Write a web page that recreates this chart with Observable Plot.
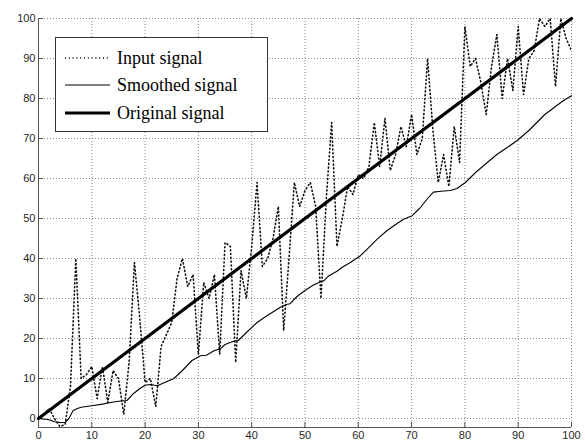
<!DOCTYPE html>
<html><head><meta charset="utf-8">
<script src="https://cdn.jsdelivr.net/npm/d3@7"></script>
<script src="https://cdn.jsdelivr.net/npm/@observablehq/plot@0.6"></script>
<style>body{margin:0;background:#fff}</style>
</head><body><div id="chart"></div>
<script>
// Input signal, one sample per x unit (x = 0..100)
const inputY = [0,1,2.5,0,-2,-1.5,8,40,10,11,
  13,5,13,4,12,10,1,14,39,25,
  9,10,3,18,21,24,35,40,33,36,
  16,34,30,36,16,44,43,14,37,30,
  43,59,38,40,45,53,22,40,59,53,
  57,59,53,30,55,74,43,50,58,56,
  61,60,63,74,63,75,62,66,73,68,
  76,66,70,90,72,59,66,58,73,64,
  98,88,90,84,76,88,96,80,90,82,
  98,81,90,92,100,98,100,83,100,95,
  92];
// Smoothed signal
const smoothX = [0,2,3,4,5,5.7,6.5,7.3,8,10,12,13.5,15,16.6,17.8,19,20,21,22.3,24,25.4,27,28.8,30.4,31.5,33,34.1,35,36.6,37.5,39,41,43,45.4,46.5,47.2,48.5,50,51.5,52.9,53.5,54.5,56,57,58.5,60.4,62,63.5,65.4,67,68.5,70.1,71.5,73,74.1,75.5,77.3,78.5,80.1,82,84.2,86,88,89.8,92,95,97,98.5,100];
const smoothY = [0,-0.3,-0.8,-1,-1,0,2,2.5,2.8,3.2,3.6,4,4.3,4.5,6.2,7.5,8.3,8.5,8.2,9.2,10,12,14.5,15.7,15.8,17,17.4,18.5,19.3,19.5,21.5,24,25.8,27.8,28.5,28.7,30.5,32,33.3,34.2,34.4,35.7,36.8,37.8,39,40.7,42.8,44.8,47,48.5,49.8,50.7,52.5,55,56.6,56.8,57,57.5,59,61.5,64,66,67.8,69.5,72,76,78,79.5,80.7];
// Original signal
const origX = [0,100];
const origY = [0,100];
const xTicks = [0,10,20,30,40,50,60,70,80,90,100];
const yTicks = [0,10,20,30,40,50,60,70,80,90,100];
const legendLabels = ["Input signal","Smoothed signal","Original signal"];

const input = inputY.map((y,i)=>({x:i,y}));
const smooth = smoothX.map((x,i)=>({x,y:smoothY[i]}));
const orig = origX.map((x,i)=>({x,y:origY[i]}));

const yMin = -2.25;
const dotted = "1,2.8";
const plot = Plot.plot({
  width: 585, height: 443,
  marginLeft: 38, marginRight: 14, marginTop: 18, marginBottom: 16,
  x: {domain: [0,100], label: null},
  y: {domain: [yMin,100], label: null},
  style: {fontFamily: "'Liberation Sans', Arial, sans-serif", fontSize: "11px", color: "#262626", background: "white", overflow: "visible"},
  marks: [
    Plot.gridX(xTicks, {stroke:"#888", strokeOpacity:1, strokeDasharray:"1,2"}),
    Plot.gridY(yTicks, {stroke:"#888", strokeOpacity:1, strokeDasharray:"1,2"}),
    Plot.ruleX([0], {stroke:"#555"}),
    Plot.ruleY([yMin], {stroke:"#555"}),
    Plot.tickX(xTicks, {x:d=>d, stroke:"#555", insetTop:404}),
    Plot.tickY(yTicks, {y:d=>d, stroke:"#555", insetRight:528}),
    Plot.axisX(xTicks, {tickSize:0, tickPadding:4, label:null}),
    Plot.axisY(yTicks, {tickSize:0, tickPadding:3, label:null}),
    Plot.line(input, {x:"x", y:"y", stroke:"#111", strokeWidth:1.6, strokeDasharray:dotted, clip:true}),
    Plot.line(smooth, {x:"x", y:"y", stroke:"black", strokeWidth:1.1}),
    Plot.line(orig, {x:"x", y:"y", stroke:"black", strokeWidth:3.2})
  ]
});
document.getElementById("chart").appendChild(plot);

// legend
const svg = d3.select(plot);
const g = svg.append("g").attr("text-anchor","start");
g.append("rect").attr("x",55.5).attr("y",37.5).attr("width",212).attr("height",94)
  .attr("fill","white").attr("stroke","#333").attr("stroke-width",1);
const styles = [
  {w:1.6, dash:dotted},
  {w:1.1, dash:null},
  {w:3.2, dash:null}
];
const ys = [58,85,113];
legendLabels.forEach((t,i)=>{
  const l = g.append("line").attr("x1",65).attr("x2",110).attr("y1",ys[i]).attr("y2",ys[i])
    .attr("stroke","black").attr("stroke-width",styles[i].w);
  if (styles[i].dash) l.attr("stroke-dasharray",styles[i].dash);
  g.append("text").attr("x",117).attr("y",ys[i]+6).text(t)
    .attr("text-anchor","start")
    .attr("font-family","'Liberation Serif','Times New Roman',serif").attr("font-size",18).attr("fill","black");
});
</script>
</body></html>
